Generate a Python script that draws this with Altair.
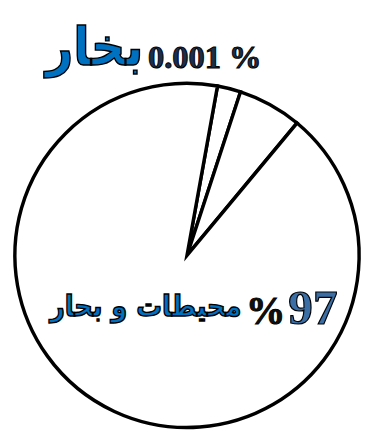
import altair as alt
import pandas as pd
import math

# Slice shares (percent of the drawn circle)
categories = ["بخار", "مياه أخرى", "محيطات و بحار"]
shares = [2.2, 6.0, 91.8]
order = [0, 1, 2]

# Labels shown on the chart
label_vapor = "بخار"
label_vapor_value = "0.001 %"
label_ocean = "محيطات و بحار"
label_ocean_pct = "%"
label_ocean_value = "97"

df = pd.DataFrame({"category": categories, "share": shares, "order": order})

start = math.radians(10.2)

W, H = 364, 425
CX, CY, R = 182, 248, 175

pie = alt.Chart(df).mark_arc(
    radius=R, fill="white", stroke="black", strokeWidth=3.5
).encode(
    theta=alt.Theta("share:Q", stack=True,
                    scale=alt.Scale(range=[start, start + 2 * math.pi])),
    order=alt.Order("order:Q"),
    x=alt.value(CX),
    y=alt.value(CY),
)

def txt(text, x, y, size, font, fill, weight="bold", stroke="black", sw=1.2):
    return alt.Chart(pd.DataFrame({"t": [text]})).mark_text(
        font=font, fontSize=size, fontWeight=weight, fill=fill,
        stroke=stroke, strokeWidth=sw, align="center", baseline="alphabetic"
    ).encode(text="t:N", x=alt.value(x), y=alt.value(y))

arab_font = "DejaVu Sans Condensed"
num_font = "Liberation Serif"

layers = [
    pie,
    txt(label_vapor, 88, 54, 54, arab_font, "#0070C0", sw=1.4),
    txt(label_vapor_value, 200, 57, 33, num_font, "#1b2f4a", sw=1.0),
    txt(label_ocean, 140, 310, 29, arab_font, "#0070C0", sw=1.4),
    txt(label_ocean_pct, 262, 318, 40, num_font, "#111111", sw=1.0),
    txt(label_ocean_value, 310, 318, 50, num_font, "#3A6EA5", sw=1.2),
]

chart = alt.layer(*layers).properties(
    width=W, height=H, padding=0, autosize=alt.AutoSizeParams(type="none")
).configure_view(stroke=None)

chart.save("out.html", embed_options={"renderer": "svg", "actions": False})
